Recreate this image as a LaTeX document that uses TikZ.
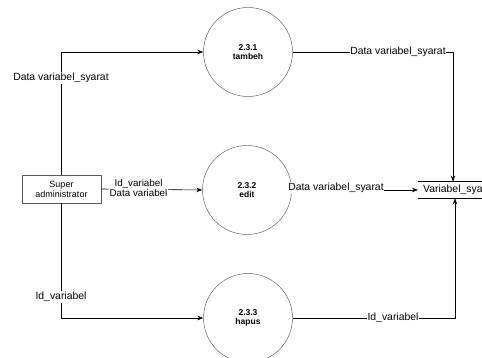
\documentclass[tikz,border=0pt]{standalone}
\usepackage{fontspec}
\setmainfont{Liberation Sans}
\usetikzlibrary{arrows.meta}
\begin{document}
\begin{tikzpicture}[x=1pt,y=-1pt,
  proc/.style={circle,draw=black!65,line width=0.45pt,minimum size=89pt,inner sep=0pt,
    align=center,font=\fontsize{8.5}{9.5}\selectfont\bfseries},
  entity/.style={rectangle,draw=black!65,line width=0.45pt,minimum width=79pt,minimum height=28pt,
    inner sep=0pt,align=center,font=\fontsize{9}{10}\selectfont},
  store/.style={rectangle,inner xsep=5pt,minimum height=16pt,anchor=west,
    font=\fontsize{10.4}{11}\selectfont},
  flow/.style={draw=black,line width=0.6pt,-{Stealth[length=6pt,width=4.5pt]}},
  lbl/.style={fill=white,inner sep=0.8pt,align=center,font=\fontsize{10.4}{10}\selectfont}]
  \clip (0,0) rectangle (482,358);
  \fill[white] (0,0) rectangle (482,358);

  % processes
  \node[proc] (c1) at (248,52) {2.3.1\\tambeh};
  \node[proc] (c2) at (247,190) {2.3.2\\edit};
  \node[proc] (c3) at (248,318) {2.3.3\\hapus};

  % external entity
  \node[entity] (admin) at (61.5,189) {Super\\administrator};

  % data store
  \node[store] (vs) at (418,190) {Variabel\_syarat};
  \draw[line width=0.5pt] (vs.north west) -- ++(80,0);
  \draw[line width=0.5pt] (vs.south west) -- ++(80,0);

  % data flows
  \draw[flow] (admin.north) |- (c1.west);
  \draw[flow] (admin.east) -- (c2.west);
  \draw[flow] (admin.south) |- (c3.west);
  \draw[flow] (c1.east) -| ([xshift=35pt]vs.north west);
  \draw[flow] (c2.east) -- (vs.west);
  \draw[flow] (c3.east) -| ([xshift=37pt]vs.south west);

  % flow labels
  \node[lbl] (l1) at (61,78) {Data variabel\_syarat};
  \node[lbl] (l2) at (398,52) {Data variabel\_syarat};
  \node[lbl,font=\fontsize{9.8}{10}\selectfont] (l3) at (138.5,188) {Id\_variabel\\Data variabel};
  \node[lbl] (l4) at (336,188) {Data variabel\_syarat};
  \node[lbl] (l5) at (61,297) {Id\_variabel};
  \node[lbl] (l6) at (393,318) {Id\_variabel};
\end{tikzpicture}
\end{document}
